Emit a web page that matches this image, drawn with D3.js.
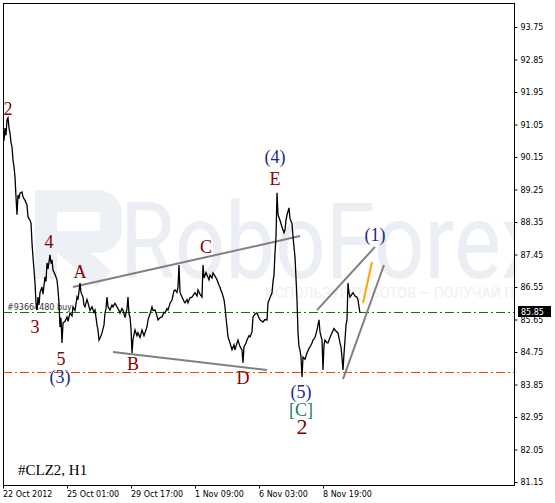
<!DOCTYPE html>
<html><head><meta charset="utf-8">
<script src="https://cdn.jsdelivr.net/npm/d3@7"></script>
<style>
html,body{margin:0;padding:0;background:#fff;}
svg{display:block;}
</style></head>
<body>
<svg id="chart" width="555" height="503"></svg>
<script>
// ---------- DATA ----------
const symbolTitle = "#CLZ2, H1";
const xTickBars = [0, 64, 128, 192, 256, 320];
const xTickLabels = ["22 Oct 2012", "25 Oct 01:00", "29 Oct 17:00", "1 Nov 09:00", "6 Nov 03:00", "8 Nov 19:00"];
const yTickValues = [93.75, 92.85, 91.95, 91.05, 90.15, 89.25, 88.35, 87.45, 86.55, 85.65, 84.75, 83.85, 82.95, 82.05, 81.15];
const lastPrice = 85.85;
const orderLevel = 85.85;
const orderText = "#93664480 buy";
const supportLevel = 84.20;

const bars = [0,1,2,3,4,5,6,7,8,9,10,11,12,13,14,15,16,17,19,20,22,24,25,27,28,29,30,31,32,33,34,35,36,37,39,40,42,43,44,45,47,48,49,50,52,54,55,56,57,58,59,60,62,64,65,67,69,70,72,74,75,77,78,80,81,82,84,85,87,89,91,92,94,95,96,98,99,101,102,103,104,105,107,109,110,112,114,116,117,119,120,122,124,125,126,127,128,129,130,132,134,135,137,139,141,142,144,145,147,149,150,152,154,155,157,159,161,162,164,165,167,169,171,172,174,175,176,177,179,181,182,184,185,187,189,191,192,194,195,197,199,200,201,203,204,206,207,209,210,212,214,216,217,218,219,221,222,223,224,225,227,229,231,232,234,235,237,239,240,241,243,244,246,247,249,250,252,254,256,257,259,260,262,264,265,267,269,270,271,272,273,274,275,277,279,281,282,283,284,286,287,289,290,292,293,294,295,296,297,298,299,300,302,304,306,307,309,310,312,314,315,316,317,319,320,321,322,324,325,327,329,331,332,334,335,337,338,339,340,341,342,343,344,345,346,347,349,350,352,354,355,356,357];
const closes = [90.90,90.60,90.95,90.75,91.18,91.23,90.95,90.82,90.55,90.43,90.07,89.88,89.60,89.04,88.55,89.10,89.00,89.15,89.18,89.04,88.95,88.82,88.49,88.40,88.32,87.77,87.38,87.02,86.66,86.11,85.91,86.27,86.05,86.40,86.55,86.35,86.83,86.70,87.22,87.05,87.44,87.20,87.30,87.02,86.90,86.75,86.47,86.10,85.44,85.70,85.00,85.55,85.60,85.72,85.60,85.83,85.75,86.00,85.90,86.27,86.20,86.66,86.40,86.27,86.05,86.00,86.20,86.11,85.90,86.00,85.85,85.91,85.50,85.36,85.08,85.20,85.28,85.50,85.83,85.95,86.27,86.00,85.91,86.05,86.00,86.10,86.00,85.90,85.83,85.95,85.91,85.70,85.95,86.27,85.80,85.72,85.40,84.72,85.10,85.36,85.20,85.28,85.15,85.36,85.20,85.28,85.45,85.64,85.80,86.00,85.90,85.91,85.75,85.64,85.70,85.72,85.85,85.83,85.95,85.91,86.10,86.19,86.45,86.47,86.40,86.55,87.16,86.40,86.27,86.15,86.11,86.20,86.11,86.25,86.27,86.35,86.39,86.30,86.47,86.35,86.27,87.16,86.80,86.95,86.88,86.75,86.88,86.80,86.94,86.85,86.75,86.60,86.55,86.45,86.39,86.20,86.00,85.70,85.44,85.17,85.00,84.81,84.95,84.81,85.00,85.08,84.90,84.81,84.45,84.90,85.00,85.08,85.20,85.17,85.30,85.72,85.80,85.83,85.70,85.64,85.60,85.58,85.65,85.64,86.11,86.25,86.39,86.70,86.88,87.50,87.94,89.16,88.55,88.40,88.21,88.05,88.13,88.40,88.55,88.74,88.45,88.30,87.94,87.38,86.80,86.19,85.28,84.90,84.81,84.61,84.06,84.61,84.55,84.72,84.85,84.89,85.00,85.08,85.15,85.36,85.50,85.64,85.30,85.08,84.25,84.95,85.08,85.00,85.00,85.15,85.28,85.40,85.36,85.30,85.28,85.00,84.89,84.60,84.25,84.70,85.08,85.50,85.64,86.66,86.40,86.27,86.35,86.39,86.30,86.27,86.19,86.00,85.83];

// trend lines: [bar1, price1, bar2, price2]
const trendLines = [
  [70, 86.55, 297, 87.96],
  [110, 84.75, 264, 84.25],
  [314, 85.91, 372, 87.66],
  [340, 84.00, 381, 87.16]
];
const projectionLine = [360, 86.11, 369, 87.24];

// wave labels
const waveText  = ["2", "4", "3", "5", "(3)", "A", "B", "C", "D", "E", "(4)", "(5)", "[C]", "2", "(1)"];
const waveBar   = [5, 46, 32, 58, 57, 77, 130, 203, 240, 272, 272, 298, 298, 299, 372];
const wavePrice = [91.48, 87.80, 85.44, 84.56, 84.03, 86.97, 84.42, 87.66, 84.03, 89.54, 90.13, 83.62, 83.12, 82.70, 87.96];
const waveDegree = ["minuette","minuette","minuette","minuette","minor","minuette","minuette","minuette","minuette","minuette","minor","minor","intermediate","primary","minor"];

// ---------- CHART ----------
const svg = d3.select("#chart");
const L = 3, R = 515, T = 3, B = 485;
const x = d3.scaleLinear().domain([0, 512]).range([L, R]);
const y = d3.scaleLinear().domain([81.15, 93.75]).range([482, 27]);

svg.append("defs").append("clipPath").attr("id", "plot")
  .append("rect").attr("x", L).attr("y", T).attr("width", R - L).attr("height", B - T);

const plot = svg.append("g").attr("clip-path", "url(#plot)");

// watermark
const wm = plot.append("g");
wm.append("path")
  .attr("d", "M46 279 V201 H96 Q111 201 111 216 V227 Q111 242 96 242 H62 L104 279")
  .attr("fill", "none").attr("stroke", "#edf0f4").attr("stroke-width", 22);
wm.append("text").attr("x", 120).attr("y", 278)
  .attr("font-family", "Roboto, 'Open Sans', sans-serif").attr("font-size", 106)
  .attr("textLength", 425).attr("lengthAdjust", "spacingAndGlyphs")
  .attr("fill", "#ebeef3").text("RoboForex");
wm.append("text").attr("x", 265).attr("y", 298)
  .attr("font-family", "Roboto, sans-serif").attr("font-size", 14)
  .attr("fill", "#eef0f4").text("ИСПОЛЬЗУЙ РОБОТОВ — ПОЛУЧАЙ ПРИБЫЛЬ");

// horizontal levels
plot.append("line").attr("x1", L).attr("x2", R)
  .attr("y1", Math.round(y(orderLevel)) + 0.5).attr("y2", Math.round(y(orderLevel)) + 0.5)
  .attr("stroke", "#008000").attr("stroke-dasharray", "9,3,2,3");
plot.append("line").attr("x1", L).attr("x2", R)
  .attr("y1", Math.round(y(supportLevel)) + 0.5).attr("y2", Math.round(y(supportLevel)) + 0.5)
  .attr("stroke", "#ff4500").attr("stroke-dasharray", "9,3,2,3");
plot.append("text").attr("x", 7).attr("y", Math.round(y(orderLevel)) - 2)
  .attr("font-family", "'DejaVu Sans', sans-serif").attr("font-size", 8)
  .attr("fill", "#333").text(orderText);

// trend lines
plot.selectAll(".tl").data(trendLines).join("line")
  .attr("x1", d => x(d[0])).attr("y1", d => y(d[1]))
  .attr("x2", d => x(d[2])).attr("y2", d => y(d[3]))
  .attr("stroke", "#808080").attr("stroke-width", 2);
plot.append("line")
  .attr("x1", x(projectionLine[0])).attr("y1", y(projectionLine[1]))
  .attr("x2", x(projectionLine[2])).attr("y2", y(projectionLine[3]))
  .attr("stroke", "#ffa500").attr("stroke-width", 2);

// price line
const series = bars.map((b, i) => [b, closes[i]]);
plot.append("path").datum(series)
  .attr("d", d3.line().x(d => x(d[0])).y(d => y(d[1])))
  .attr("fill", "none").attr("stroke", "#000").attr("stroke-width", 1.3);

// wave labels
const degStyle = {
  minuette: {color: "#8b0000", size: 18},
  minor: {color: "#1c2a8c", size: 18},
  intermediate: {color: "#1d8060", size: 18},
  primary: {color: "#7a0000", size: 22}
};
plot.selectAll(".wl").data(waveText).join("text")
  .attr("x", (d, i) => x(waveBar[i]))
  .attr("y", (d, i) => y(wavePrice[i]))
  .attr("dy", d => d.startsWith("(") || d.startsWith("[") ? "0.28em" : "0.34em")
  .attr("text-anchor", "middle")
  .attr("font-family", "'Liberation Serif', 'Times New Roman', serif")
  .attr("font-size", (d, i) => degStyle[waveDegree[i]].size)
  .attr("fill", (d, i) => degStyle[waveDegree[i]].color)
  .text(d => d);

// title
plot.append("text").attr("x", 18).attr("y", 475)
  .attr("font-family", "'Liberation Serif', 'Times New Roman', serif")
  .attr("font-size", 15).attr("fill", "#000").text(symbolTitle);

// frame
svg.append("rect").attr("x", L + 0.5).attr("y", T + 0.5)
  .attr("width", R - L - 1).attr("height", B - T).attr("fill", "none")
  .attr("stroke", "#000").attr("stroke-width", 1);

// axes
const fontAxis = "'DejaVu Sans', Tahoma, sans-serif";
const yAxis = svg.append("g").attr("transform", `translate(${R - 0.5},0)`)
  .call(d3.axisRight(y).tickValues(yTickValues).tickFormat(d3.format(".2f")).tickSize(3).tickPadding(3));
yAxis.select(".domain").remove();
yAxis.selectAll("text").attr("font-family", fontAxis).attr("font-size", 8).attr("fill", "#000");

const xAxis = svg.append("g").attr("transform", `translate(0,${B + 0.5})`)
  .call(d3.axisBottom(x).tickValues(xTickBars).tickFormat((d, i) => xTickLabels[i]).tickSize(3).tickPadding(3));
xAxis.select(".domain").remove();
xAxis.selectAll("text").attr("font-family", fontAxis).attr("font-size", 8)
  .attr("text-anchor", "start").attr("dx", "-0.5").attr("fill", "#000");

// last price tag
const py = y(lastPrice);
svg.append("rect").attr("x", 518).attr("y", Math.round(py) - 6).attr("width", 33).attr("height", 11).attr("fill", "#000");
svg.append("text").attr("x", 521).attr("y", Math.round(py) + 3)
  .attr("font-family", fontAxis).attr("font-size", 8).attr("fill", "#fff").text(d3.format(".2f")(lastPrice));
</script>
</body></html>
